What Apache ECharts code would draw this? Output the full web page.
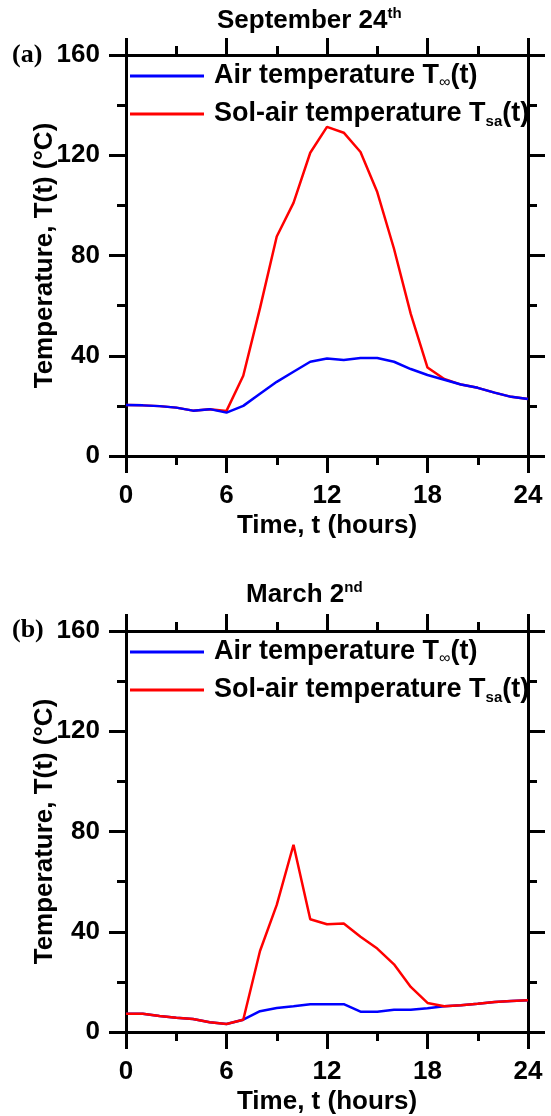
<!DOCTYPE html>
<html>
<head>
<meta charset="UTF-8">
<title>Temperature</title>
<script src="https://cdn.jsdelivr.net/npm/echarts@6/dist/echarts.min.js"></script>
<style>
  body { margin: 0; background: #fff; }
</style>
</head>
<body>
<div id="container" style="width: 551px; height: 1116px;"></div>
<script type="text/javascript">
    // hours of the day
    var hours = [0, 1, 2, 3, 4, 5, 6, 7, 8, 9, 10, 11, 12, 13, 14, 15, 16, 17, 18, 19, 20, 21, 22, 23, 24];

    // (a) September 24th
    var sepAir = [20.3, 20.2, 19.9, 19.3, 18.1, 18.7, 17.3, 20.0, 24.8, 29.6, 33.6, 37.6, 38.9, 38.3, 39.1, 39.1, 37.6, 34.7, 32.3, 30.4, 28.5, 27.2, 25.3, 23.6, 22.7];
    var sepSolAir = [20.3, 20.2, 19.9, 19.3, 18.1, 18.7, 18.0, 32.0, 59.0, 87.6, 101.0, 121.0, 131.3, 129.0, 121.3, 105.3, 82.7, 56.7, 35.3, 30.7, 28.5, 27.2, 25.3, 23.6, 22.7];

    // (b) March 2nd
    var marAir = [7.3, 7.3, 6.4, 5.7, 5.2, 3.9, 3.2, 4.9, 8.3, 9.6, 10.3, 11.1, 11.1, 11.1, 8.1, 8.1, 8.9, 8.9, 9.5, 10.3, 10.7, 11.3, 12.0, 12.4, 12.7];
    var marSolAir = [7.3, 7.3, 6.4, 5.7, 5.2, 3.9, 3.2, 4.9, 32.3, 50.7, 74.7, 45.0, 43.0, 43.3, 38.0, 33.3, 27.0, 18.0, 11.6, 10.3, 10.7, 11.3, 12.0, 12.4, 12.7];

    var xTicks = { min: 0, max: 24, interval: 6 };
    var yTicks = { min: 0, max: 160, interval: 40 };

    var FONT = "'Liberation Sans', Arial, sans-serif";
    var legendNames = {
        air: 'Air temperature T{inf|\u221e}(t)',
        sol: 'Sol-air temperature T{sub|sa}(t)'
    };

    function pairs(vals) {
        var out = [];
        for (var i = 0; i < hours.length; i++) out.push([hours[i], vals[i]]);
        return out;
    }

    var tickStyle = { color: '#000', width: 3 };

    function xAxis(grid, pos, labels) {
        return {
            type: 'value', gridIndex: grid, position: pos,
            min: xTicks.min, max: xTicks.max, interval: xTicks.interval,
            name: labels ? 'Time, t (hours)' : '',
            nameLocation: 'middle', nameGap: 57, nameMoveOverlap: false,
            nameTextStyle: { fontFamily: FONT, fontWeight: 'bold', fontSize: 26, color: '#000' },
            axisLine: { show: true, onZero: false, lineStyle: tickStyle },
            axisTick: { show: true, length: 17, lineStyle: tickStyle },
            minorTick: { show: true, splitNumber: 2, length: 9, lineStyle: tickStyle },
            splitLine: { show: false },
            axisLabel: { show: labels, margin: 27, fontFamily: FONT, fontWeight: 'bold', fontSize: 26, color: '#000' }
        };
    }

    function yAxis(grid, pos, labels) {
        return {
            type: 'value', gridIndex: grid, position: pos,
            min: yTicks.min, max: yTicks.max, interval: yTicks.interval,
            name: labels ? 'Temperature, T(t) (\u00b0C)' : '',
            nameLocation: 'middle', nameGap: 68, nameMoveOverlap: false,
            nameTextStyle: { fontFamily: FONT, fontWeight: 'bold', fontSize: 26, color: '#000' },
            axisLine: { show: true, onZero: false, lineStyle: tickStyle },
            axisTick: { show: true, length: 17, lineStyle: tickStyle },
            minorTick: { show: true, splitNumber: 2, length: 9, lineStyle: tickStyle },
            splitLine: { show: false },
            axisLabel: { show: labels, margin: 26, fontFamily: FONT, fontWeight: 'bold', fontSize: 26, color: '#000' }
        };
    }

    function legend(name, top) {
        return {
            data: [name], left: 130, top: top, padding: 0,
            icon: 'rect', itemWidth: 74, itemHeight: 3,
            selectedMode: false,
            formatter: function (n) { return legendNames[n]; },
            textStyle: {
                fontFamily: FONT, fontWeight: 'bold', fontSize: 27, color: '#000',
                lineHeight: 30, padding: [0, 0, 0, 5],
                rich: {
                    sub: { fontFamily: FONT, fontSize: 15, fontWeight: 'bold', color: '#000', verticalAlign: 'bottom', lineHeight: 18 },
                    inf: { fontFamily: FONT, fontSize: 16, fontWeight: 'normal', color: '#000', verticalAlign: 'bottom', lineHeight: 18 }
                }
            }
        };
    }

    function line(name, x, y, vals, color) {
        return {
            name: name, type: 'line', xAxisIndex: x, yAxisIndex: y,
            data: pairs(vals), showSymbol: false, symbol: 'none',
            lineStyle: { color: color, width: 2.5 }, itemStyle: { color: color },
            animation: false
        };
    }

    var titleStyle = {
        fontFamily: FONT, fontWeight: 'bold', fontSize: 26, color: '#000', lineHeight: 30,
        rich: { sup: { fontFamily: FONT, fontWeight: 'bold', fontSize: 15, color: '#000', verticalAlign: 'top', lineHeight: 16 } }
    };
    var panelStyle = { fontFamily: "'Liberation Serif', 'Times New Roman', serif", fontWeight: 'bold', fontSize: 26, color: '#000', lineHeight: 30 };

    var mychart = echarts.init(document.getElementById('container'));
    var option = {
        backgroundColor: '#fff',
        animation: false,
        title: [
            { text: 'September 24{sup|th}', left: 217, top: 6, padding: 0, textStyle: titleStyle },
            { text: 'March 2{sup|nd}', left: 246, top: 580, padding: 0, textStyle: titleStyle },
            { text: '(a)', left: 12, top: 40, padding: 0, textStyle: panelStyle },
            { text: '(b)', left: 12, top: 615, padding: 0, textStyle: panelStyle }
        ],
        legend: [
            legend('air', 61), legend('sol', 99),
            legend('air', 637), legend('sol', 675)
        ],
        grid: [
            { left: 126, right: 23, top: 55, height: 401 },
            { left: 126, right: 23, top: 631, height: 401 }
        ],
        xAxis: [xAxis(0, 'bottom', true), xAxis(0, 'top', false), xAxis(1, 'bottom', true), xAxis(1, 'top', false)],
        yAxis: [yAxis(0, 'left', true), yAxis(0, 'right', false), yAxis(1, 'left', true), yAxis(1, 'right', false)],
        series: [
            // top panel: blue drawn over red
            line('sol', 0, 0, sepSolAir, '#ff0000'),
            line('air', 0, 0, sepAir, '#0000ff'),
            // bottom panel: red drawn over blue
            line('air', 2, 2, marAir, '#0000ff'),
            line('sol', 2, 2, marSolAir, '#ff0000')
        ]
    };
    mychart.setOption(option);
</script>
</body>
</html>
